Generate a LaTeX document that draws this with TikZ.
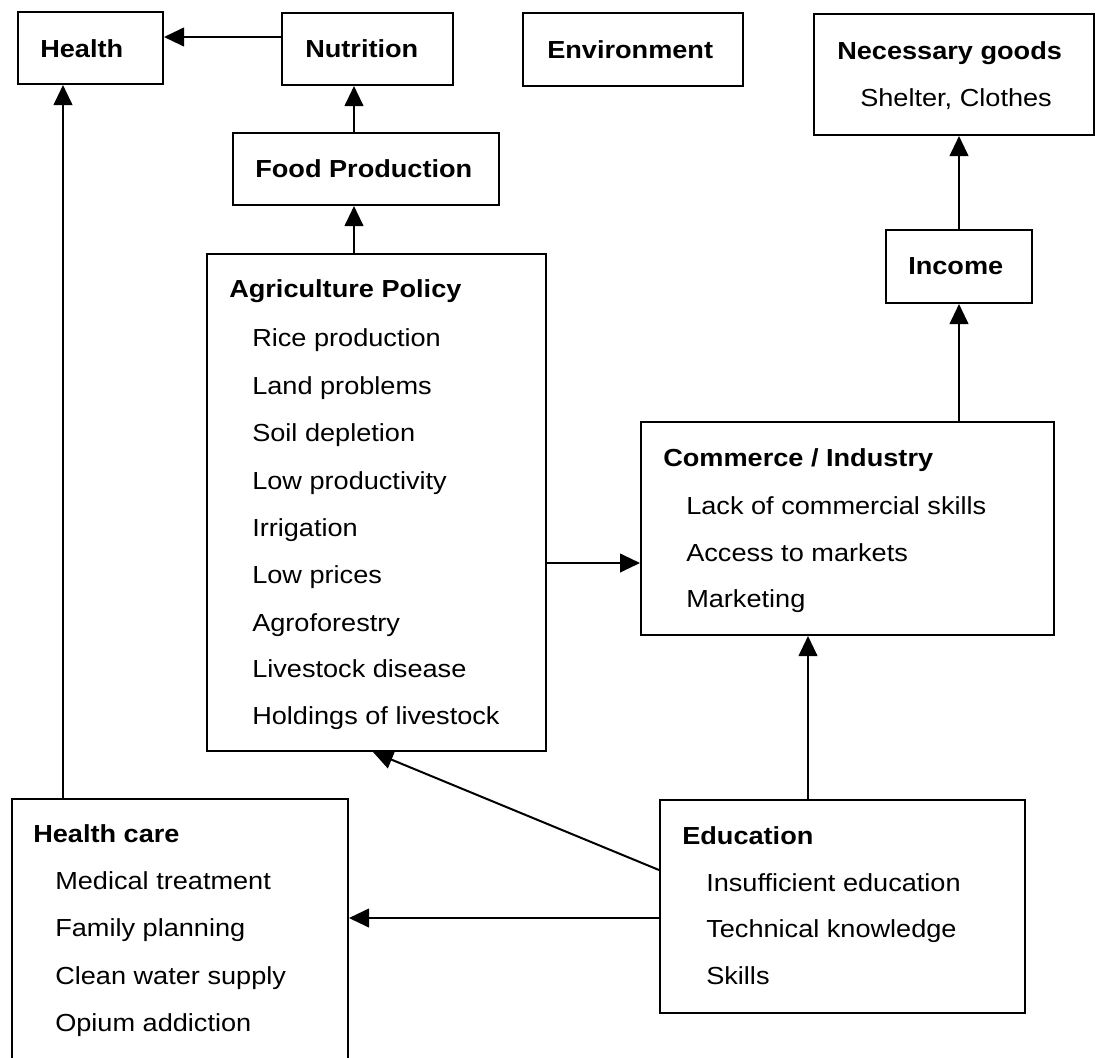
\documentclass[tikz,border=0pt]{standalone}
\usepackage{fontspec}
\setmainfont{Liberation Sans}[FakeStretch=1.1]
\usetikzlibrary{arrows.meta,fit}
\begin{document}
\begin{tikzpicture}[x=0.75pt,y=-0.75pt,
  box/.style={draw=black,line width=1.5pt,inner sep=0pt,fill=none},
  lbl/.style={inner sep=0pt,anchor=base west,font=\fontsize{18.5pt}{22pt}\selectfont\bfseries},
  itm/.style={inner sep=0pt,anchor=base west,font=\fontsize{18.5pt}{22pt}\selectfont},
  arr/.style={line width=1.5pt,-{Triangle[length=15pt,width=14pt]}}]
\useasboundingbox (0,0) rectangle (1096,1057);
\fill[white] (0,0) rectangle (1096,1057);
\begin{scope}
\clip (0,0) rectangle (1096,1057);
% boxes
\node[box,fit={(18,12) (163,84)}] (health) {};
\node[box,fit={(282,13) (453,85)}] (nutr) {};
\node[box,fit={(523,13) (743,86)}] (env) {};
\node[box,fit={(814,14) (1094,135)}] (need) {};
\node[box,fit={(233,133) (499,205)}] (food) {};
\node[box,fit={(886,230) (1032,303)}] (income) {};
\node[box,fit={(207,254) (546,751)}] (agri) {};
\node[box,fit={(641,422) (1054,635)}] (comm) {};
\node[box,fit={(660,800) (1025,1013)}] (edu) {};
\node[box,fit={(12,799) (348,1090)}] (hc) {};
\end{scope}
% labels
\node[lbl] (healthT) at (40,57) {Health};
\node[lbl] (nutrT) at (305,57) {Nutrition};
\node[lbl] (envT) at (547,58) {Environment};
\node[lbl] (foodT) at (255,177) {Food Production};
\node[lbl] (needT) at (837,59) {Necessary goods};
\node[itm] (needA) at (860,106) {Shelter, Clothes};
\node[lbl] (incT) at (908,274) {Income};
\node[lbl] (agriT) at (229,297) {Agriculture Policy};
\node[itm] (agri1) at (252,346) {Rice production};
\node[itm] (agri2) at (252,394) {Land problems};
\node[itm] (agri3) at (252,441) {Soil depletion};
\node[itm] (agri4) at (252,489) {Low productivity};
\node[itm] (agri5) at (252,536) {Irrigation};
\node[itm] (agri6) at (252,583) {Low prices};
\node[itm] (agri7) at (252,631) {Agroforestry};
\node[itm] (agri8) at (252,677) {Livestock disease};
\node[itm] (agri9) at (252,724) {Holdings of livestock};
\node[lbl] (commT) at (663,466) {Commerce / Industry};
\node[itm] (comm1) at (686,514) {Lack of commercial skills};
\node[itm] (comm2) at (686,561) {Access to markets};
\node[itm] (comm3) at (686,607) {Marketing};
\node[lbl] (eduT) at (682,844) {Education};
\node[itm] (edu1) at (706,891) {Insufficient education};
\node[itm] (edu2) at (706,937) {Technical knowledge};
\node[itm] (edu3) at (706,984) {Skills};
\node[lbl] (hcT) at (33,842) {Health care};
\node[itm] (hc1) at (55,889) {Medical treatment};
\node[itm] (hc2) at (55,936) {Family planning};
\node[itm] (hc3) at (55,984) {Clean water supply};
\node[itm] (hc4) at (55,1031) {Opium addiction};
% guide coordinates
\coordinate (yA) at (0,37);
\coordinate (xB) at (63,0);
\coordinate (xC) at (354,0);
\coordinate (xD) at (959,0);
\coordinate (yE) at (0,563);
\coordinate (xF) at (808,0);
\coordinate (yG) at (0,870);
\coordinate (xG) at (373,0);
\coordinate (yH) at (0,918);
% connectors
\draw[arr] (nutr.west |- yA) -- (health.east |- yA);
\draw[arr] (hc.north -| xB) -- (health.south -| xB);
\draw[arr] (food.north -| xC) -- (nutr.south -| xC);
\draw[arr] (agri.north -| xC) -- (food.south -| xC);
\draw[arr] (income.north -| xD) -- (need.south -| xD);
\draw[arr] (comm.north -| xD) -- (income.south -| xD);
\draw[arr] (agri.east |- yE) -- (comm.west |- yE);
\draw[arr] (edu.north -| xF) -- (comm.south -| xF);
\draw[arr] (edu.west |- yG) -- (agri.south -| xG);
\draw[arr] (edu.west |- yH) -- (hc.east |- yH);
\end{tikzpicture}
\end{document}
